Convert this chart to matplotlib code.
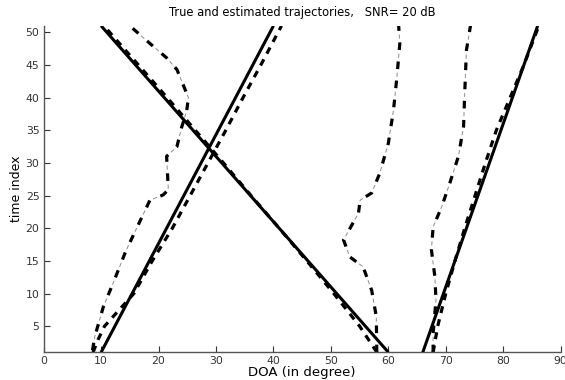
"""
plot.py - true and estimated DOA trajectories (SNR = 20 dB).
"""

import matplotlib
matplotlib.use("Agg")
import matplotlib.pyplot as plt

# true trajectories: straight lines, (DOA at t=1, DOA at t=51)
true_t = [1, 51]
true_doa = [
    [10.0, 40.0],
    [60.0, 10.0],
    [66.0, 86.0],
]

# estimate 1 (dashed), sampled at these time indices
est1_t = [1, 3, 5, 10, 15, 20, 25, 30, 35, 40, 45, 51]
est1_doa = [
    [8.6, 9.5, 10.6, 15.7, 18.9, 22.4, 25.5, 28.6, 31.7, 34.7, 37.8, 41.4],
    [58.0, 56.5, 55.0, 50.5, 45.8, 41.0, 36.1, 31.3, 26.4, 21.5, 16.5, 10.5],
    [67.8, 68.2, 68.6, 70.0, 71.6, 73.3, 75.1, 76.9, 78.8, 81.2, 83.6, 86.2],
]

# estimate 2 (dash-dot) - three separate curves
est2_a_t = [1.3, 3.4, 8.0, 11.6, 16.5, 24.3, 25.1, 25.9, 31.0, 32.5, 35.4, 38.0, 40.0,
            44.3, 46.1, 48.3, 51.0]
est2_a_doa = [8.5, 8.9, 10.4, 12.1, 14.3, 18.5, 20.8, 21.7, 21.4, 23.2, 24.0, 24.9, 25.2,
              23.2, 21.4, 18.5, 15.0]

est2_b_t = [1.0, 6.5, 10.5, 14.1, 15.6, 18.2, 22.3, 24.3, 25.4, 28.4, 33.0, 38.1, 43.2,
            48.3, 51.0]
est2_b_doa = [58.0, 57.9, 57.1, 55.6, 53.3, 52.2, 54.8, 55.1, 57.1, 58.5, 60.0, 60.9, 61.5,
              62.0, 61.8]

est2_c_t = [1.0, 3.9, 9.0, 12.6, 16.7, 20.2, 23.3, 26.9, 31.0, 35.6, 40.7, 47.3, 51.0]
est2_c_doa = [67.8, 67.8, 68.3, 68.1, 67.5, 67.8, 69.3, 70.7, 72.2, 73.1, 73.3, 73.6, 74.3]

x_ticks = list(range(0, 91, 10))
y_ticks = list(range(5, 51, 5))

plt.rcParams["font.family"] = ["DejaVu Sans"]
plt.rcParams["lines.scale_dashes"] = False   # dash lengths in points

fig = plt.figure(figsize=(5.65, 3.8), dpi=100)
ax = fig.add_axes([0.0773, 0.073, 0.915, 0.859])

for doa in true_doa:
    ax.plot(doa, true_t, color="black", lw=2.2, solid_capstyle="butt", zorder=3)

for doa in est1_doa:
    ax.plot(doa, est1_t, color="black", lw=2.3, dashes=(5.0, 4.6), zorder=2)

# dash-dot: thick dash, then a thin grey dash in the gap
for t, doa in [(est2_a_t, est2_a_doa), (est2_b_t, est2_b_doa), (est2_c_t, est2_c_doa)]:
    ax.plot(doa, t, color="#8a8a8a", lw=0.7, linestyle=(5.6, (3.0, 10.8)), zorder=1)
    ax.plot(doa, t, color="black", lw=2.3, dashes=(5.5, 8.3), zorder=2)

ax.set_xlim(0, 90)
ax.set_ylim(1, 51)
ax.set_xticks(x_ticks)
ax.set_yticks(y_ticks)
ax.tick_params(direction="in", length=4, width=0.8, labelsize=7.8, colors="#333333", pad=3)
ax.spines[["top", "right"]].set_visible(False)
for side in ("left", "bottom"):
    ax.spines[side].set_color("#555555")
    ax.spines[side].set_linewidth(1.0)

ax.set_xlabel("DOA (in degree)", fontsize=9.5, labelpad=0)
ax.set_ylabel("time index", fontsize=9, labelpad=2)
ax.set_title("True and estimated trajectories,   SNR= 20 dB", fontsize=8.3, pad=7)

fig.savefig("out.png", dpi=100)
